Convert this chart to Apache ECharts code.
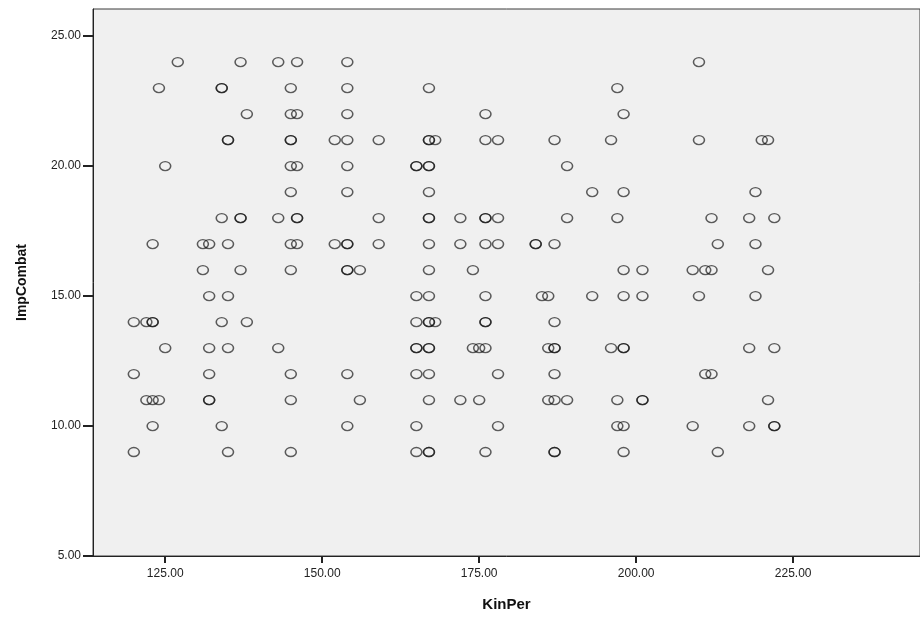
<!DOCTYPE html>
<html>
<head>
<meta charset="utf-8">
<script src="https://cdn.jsdelivr.net/npm/echarts@6/dist/echarts.min.js"></script>
<style>
  html, body { margin: 0; padding: 0; background: #fff; }
  #presentation { width: 920px; height: 619px; }
</style>
</head>
<body>
<div id="presentation"></div>
<script>
var impCombatLevels = [24, 23, 22, 21, 20, 19, 18, 17, 16, 15, 14, 13, 12, 11, 10, 9];
var kinPerByLevel = [
  [127, 137, 143, 146, 154, 210],
  [124, 134, 134, 145, 154, 167, 197],
  [138, 145, 146, 154, 176, 198],
  [135, 135, 145, 145, 152, 154, 159, 167, 167, 168, 176, 178, 187, 196, 210, 220, 221],
  [125, 145, 146, 154, 165, 165, 167, 167, 189],
  [145, 154, 167, 193, 198, 219],
  [134, 137, 137, 143, 146, 146, 159, 167, 167, 172, 176, 176, 178, 189, 197, 212, 218, 222],
  [123, 131, 132, 135, 145, 146, 152, 154, 154, 159, 167, 172, 176, 178, 184, 184, 187, 213, 219],
  [131, 137, 145, 154, 154, 156, 167, 174, 198, 201, 209, 211, 212, 221],
  [132, 135, 165, 167, 176, 185, 186, 193, 198, 201, 210, 219],
  [120, 122, 123, 123, 134, 138, 165, 167, 167, 168, 176, 176, 187],
  [125, 132, 135, 143, 165, 165, 167, 167, 174, 175, 176, 186, 187, 187, 196, 198, 198, 218, 222],
  [120, 132, 145, 154, 165, 167, 178, 187, 211, 212],
  [122, 123, 124, 132, 132, 145, 156, 167, 172, 175, 186, 187, 189, 197, 201, 201, 221],
  [123, 134, 154, 165, 178, 197, 198, 209, 218, 222, 222],
  [120, 135, 145, 165, 167, 167, 176, 187, 187, 198, 213]
];
var xTicks = [125, 150, 175, 200, 225];
var yTicks = [5, 10, 15, 20, 25];

var points = [];
for (var i = 0; i < impCombatLevels.length; i++) {
  for (var j = 0; j < kinPerByLevel[i].length; j++) {
    points.push([kinPerByLevel[i][j], impCombatLevels[i]]);
  }
}

var fontFamily = '"Liberation Sans", Arial, sans-serif';

var option = {
  animation: false,
  grid: {
    left: 93,
    top: 9,
    right: -2,
    bottom: 63,
    show: true,
    backgroundColor: '#f0f0f0',
    borderColor: '#3a3a3a',
    borderWidth: 1
  },
  xAxis: {
    type: 'value',
    min: 113.5,
    max: 245.2,
    name: 'KinPer',
    nameLocation: 'middle',
    nameGap: 41,
    nameTextStyle: { fontFamily: fontFamily, fontSize: 15, fontWeight: 'bold', color: '#111' },
    axisLine: { show: true, lineStyle: { color: '#222', width: 1 } },
    axisTick: { show: true, length: 7, customValues: xTicks, lineStyle: { color: '#222', width: 2 } },
    axisLabel: {
      customValues: xTicks,
      margin: 12,
      fontFamily: fontFamily,
      fontSize: 12,
      color: '#222',
      formatter: function (v) { return v.toFixed(2); }
    },
    splitLine: { show: false }
  },
  yAxis: {
    type: 'value',
    min: 5,
    max: 26.04,
    name: 'ImpCombat',
    nameLocation: 'middle',
    nameGap: 64,
    nameTextStyle: { fontFamily: fontFamily, fontSize: 14, fontWeight: 'bold', color: '#111' },
    axisLine: { show: true, lineStyle: { color: '#222', width: 1 } },
    axisTick: { show: true, length: 10, customValues: yTicks, lineStyle: { color: '#222', width: 2 } },
    axisLabel: {
      customValues: yTicks,
      margin: 12,
      fontFamily: fontFamily,
      fontSize: 12,
      color: '#222',
      formatter: function (v) { return v.toFixed(2); }
    },
    splitLine: { show: false }
  },
  series: [{
    name: 'ImpCombat',
    type: 'scatter',
    symbol: 'circle',
    symbolSize: [11, 9],
    itemStyle: {
      color: 'rgba(0,0,0,0)',
      borderColor: 'rgba(20,20,20,0.85)',
      borderWidth: 1.4
    },
    emphasis: { disabled: true },
    data: points
  }]
};

var mychart = echarts.init(document.getElementById('presentation'));
mychart.setOption(option);
</script>
</body>
</html>
